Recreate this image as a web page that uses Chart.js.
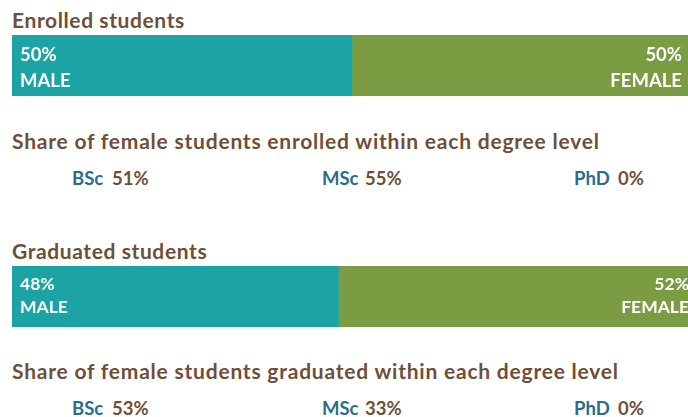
<!DOCTYPE html>
<html>
<head>
<meta charset="utf-8">
<script src="https://cdn.jsdelivr.net/npm/chart.js@4"></script>
<style>
  body { margin: 0; width: 688px; height: 417px; overflow: hidden; position: relative; background: #fff; font-family: Lato, "Open Sans", sans-serif; font-weight: bold; }
  .title { position: absolute; left: 12px; color: #6e4f37; font-size: 21px; letter-spacing: 0.6px; white-space: nowrap; }
  .sub { letter-spacing: 0.78px; }
  .bar { position: absolute; left: 12px; width: 680px; height: 61px; }
  .row { position: absolute; left: 0; top: 0; font-size: 18.5px; white-space: nowrap; }
  .row span { position: absolute; }
  .deg { color: #2a6d8c; }
  .pct { color: #6e4f37; }
</style>
</head>
<body>
<div class="title" style="top:7px">Enrolled students</div>
<canvas id="enrolledChart" class="bar" style="top:35px" width="680" height="61"></canvas>
<div class="title sub" style="top:128px">Share of female students enrolled within each degree level</div>
<div id="enrolledShares"></div>

<div class="title" style="top:238px">Graduated students</div>
<canvas id="graduatedChart" class="bar" style="top:266px" width="680" height="61"></canvas>
<div class="title sub" style="top:358px">Share of female students graduated within each degree level</div>
<div id="graduatedShares"></div>

<script>
const sexes = ['MALE', 'FEMALE'];
const enrolledSplit = [50, 50];
const graduatedSplit = [48, 52];
const degrees = ['BSc', 'MSc', 'PhD'];
const enrolledFemaleShare = [51, 55, 0];
const graduatedFemaleShare = [53, 33, 0];

const TEAL = '#1ca4a4';
const GREEN = '#7b9c42';

// percent + sex name written inside each segment
const segmentLabels = {
    id: 'segmentLabels',
    afterDatasetsDraw: (chart, args, opts) => {
        const ctx = chart.ctx;
        ctx.save();
        ctx.fillStyle = '#ffffff';
        ctx.font = `bold ${opts.size}px Lato`;
        ctx.textBaseline = 'alphabetic';
        chart.data.datasets.forEach((ds, i) => {
            const bar = chart.getDatasetMeta(i).data[0];
            const top = bar.y - bar.height / 2;
            let x;
            if (i === 0) {
                ctx.textAlign = 'left';
                x = bar.base + 8;
            } else {
                ctx.textAlign = 'right';
                x = bar.x - opts.rightPad;
            }
            ctx.fillText(ds.data[0] + '%', x, top + opts.line1);
            ctx.fillText(ds.label, x, top + opts.line2);
        });
        ctx.restore();
    }
};

function makeBar(id, values, labelOpts) {
    const ctx = document.getElementById(id).getContext('2d');
    new Chart(ctx, {
        type: 'bar',
        data: {
            labels: [''],
            datasets: sexes.map((s, i) => ({
                label: s,
                data: [values[i]],
                backgroundColor: i === 0 ? TEAL : GREEN,
                borderWidth: 0,
                barPercentage: 1,
                categoryPercentage: 1,
            }))
        },
        options: {
            indexAxis: 'y',
            responsive: false,
            animation: false,
            layout: { padding: 0 },
            scales: {
                x: { stacked: true, display: false, min: 0, max: 100 },
                y: { stacked: true, display: false }
            },
            plugins: {
                legend: { display: false },
                tooltip: { enabled: false },
                segmentLabels: labelOpts
            }
        },
        plugins: [segmentLabels]
    });
}

function makeShares(id, top, values) {
    const box = document.getElementById(id);
    const degX = [72, 322, 574];
    const pctX = [112, 365, 618];
    degrees.forEach((d, i) => {
        const row = document.createElement('div');
        row.className = 'row';
        row.style.top = top + 'px';
        row.innerHTML = `<span class="deg" style="left:${degX[i]}px">${d}</span>` +
            `<span class="pct" style="left:${pctX[i]}px">${values[i]}%</span>`;
        box.appendChild(row);
    });
}

document.fonts.load('bold 18px Lato').then(() => {
    makeBar('enrolledChart', enrolledSplit, { size: 18.5, line1: 26, line2: 52, rightPad: 10 });
    makeBar('graduatedChart', graduatedSplit, { size: 17.5, line1: 23.5, line2: 46.5, rightPad: 3 });
});
makeShares('enrolledShares', 166.5, enrolledFemaleShare);
makeShares('graduatedShares', 396.5, graduatedFemaleShare);
</script>
</body>
</html>
